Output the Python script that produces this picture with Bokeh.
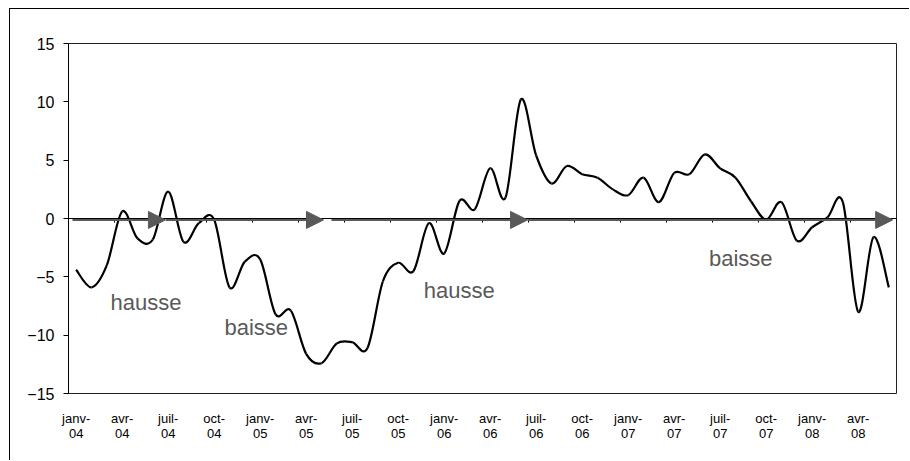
from bokeh.plotting import figure
from bokeh.models import (Range1d, FixedTicker, Arrow, NormalHead, Label, Span,
                          ColumnDataSource)
from bokeh.embed import file_html
from bokeh.resources import INLINE

# ---- data -------------------------------------------------------------
month_names = ["janv", "févr", "mars", "avr", "mai", "juin",
               "juil", "août", "sept", "oct", "nov", "déc"]
years = ["04", "05", "06", "07", "08"]
categories = [f"{m}-{y}" for y in years for m in month_names][:54]  # janv-04 .. juin-08

values = [
    -4.4, -5.9, -4.0, 0.6, -1.7, -1.8, 2.3, -2.0, -0.4, -0.1,
    -5.9, -3.7, -3.5, -8.2, -7.9, -11.6, -12.4, -10.7, -10.6, -11.1,
    -5.4, -3.8, -4.5, -0.4, -3.0, 1.5, 0.8, 4.3, 1.8, 10.2,
    5.4, 3.0, 4.5, 3.8, 3.5, 2.5, 2.0, 3.5, 1.4, 3.9,
    3.8, 5.5, 4.3, 3.5, 1.5, -0.1, 1.4, -1.9, -0.75, 0.1,
    1.4, -8.0, -1.6, -5.9,
]

y_ticks = [-15, -10, -5, 0, 5, 10, 15]

# trend annotations (text, x position in months, baseline value)
notes_text = ["hausse", "baisse", "hausse", "baisse"]
notes_x = [2.24, 9.67, 22.67, 41.27]
notes_y = [-7.17, -9.3, -6.17, -3.45]

# trend arrows along the zero line (start / end, in month index)
arrow_x0 = [-0.24, 5.84, 16.65, 29.44]
arrow_x1 = [5.82, 16.13, 29.44, 53.25]

# ---- figure -----------------------------------------------------------
n = len(values)
xs = list(range(n))

FONT = "Liberation Sans"

p = figure(width=900, height=452, output_backend="svg", toolbar_location=None,
           x_range=Range1d(-0.5, n - 0.5), y_range=Range1d(-15, 15),
           min_border_left=58, min_border_right=14, min_border_top=34,
           min_border_bottom=68)
p.margin = (8, 0, 0, 9)
p.styles = {"border-top": "1px solid #000", "border-left": "1px solid #000"}
p.background_fill_color = "white"
p.border_fill_color = "white"
p.outline_line_color = "#222222"
p.outline_line_width = 1
p.xgrid.visible = False
p.ygrid.visible = False

# y axis
p.yaxis.ticker = FixedTicker(ticks=y_ticks)
p.yaxis.axis_line_color = "black"
p.yaxis.major_tick_out = 5
p.yaxis.major_tick_in = 0
p.yaxis.minor_tick_line_color = None
p.yaxis.major_label_text_font = FONT
p.yaxis.major_label_text_font_size = "16px"
p.yaxis.major_label_text_color = "black"
p.yaxis.major_label_standoff = 9

# x axis (labels only, at bottom)
label_idx = list(range(0, n, 3))
p.xaxis.ticker = FixedTicker(ticks=label_idx)
p.xaxis.major_label_overrides = {
    i: categories[i].split("-")[0] + "-\n" + categories[i].split("-")[1]
    for i in label_idx}
p.xaxis.axis_line_color = None
p.xaxis.major_tick_line_color = None
p.xaxis.minor_tick_line_color = None
p.xaxis.major_label_text_font = FONT
p.xaxis.major_label_text_font_size = "13px"
p.xaxis.major_label_text_line_height = 1.0
p.xaxis.major_label_text_color = "black"
p.xaxis.major_label_standoff = 11

# zero line with category-group tick marks
p.add_layout(Span(location=0, dimension="width", line_color="black", line_width=1))
bounds = [i - 0.5 for i in range(0, n + 1, 3)]
p.segment(x0=bounds, y0=[0] * len(bounds), x1=bounds, y1=[-0.35] * len(bounds),
          line_color="black", line_width=1)

# trend arrows
for a0, a1 in zip(arrow_x0, arrow_x1):
    p.add_layout(Arrow(end=NormalHead(size=17, fill_color="#595959",
                                      line_color="#595959", line_width=1),
                       x_start=a0, y_start=-0.12, x_end=a1, y_end=-0.12,
                       line_color="#595959", line_width=2))

# smoothed line (cubic Bezier segments through the monthly values)
def pt(i):
    i = max(0, min(n - 1, i))
    return xs[i], values[i]

seg = dict(x0=[], y0=[], x1=[], y1=[], cx0=[], cy0=[], cx1=[], cy1=[])
for i in range(n - 1):
    xa, ya = pt(i)
    xb, yb = pt(i + 1)
    xp, yp = pt(i - 1)
    xn, yn = pt(i + 2)
    seg["x0"].append(xa); seg["y0"].append(ya)
    seg["x1"].append(xb); seg["y1"].append(yb)
    seg["cx0"].append(xa + (xb - xp) / 6); seg["cy0"].append(ya + (yb - yp) / 6)
    seg["cx1"].append(xb - (xn - xa) / 6); seg["cy1"].append(yb - (yn - ya) / 6)
p.bezier(x0="x0", y0="y0", x1="x1", y1="y1", cx0="cx0", cy0="cy0",
         cx1="cx1", cy1="cy1", source=ColumnDataSource(seg),
         line_color="black", line_width=2.2)

# annotations
for t, x, y in zip(notes_text, notes_x, notes_y):
    p.add_layout(Label(x=x, y=y, text=t, text_font=FONT, text_font_size="22px",
                       text_color="#595959", text_align="left",
                       text_baseline="alphabetic"))

open("out.html", "w").write(file_html(p, INLINE))
